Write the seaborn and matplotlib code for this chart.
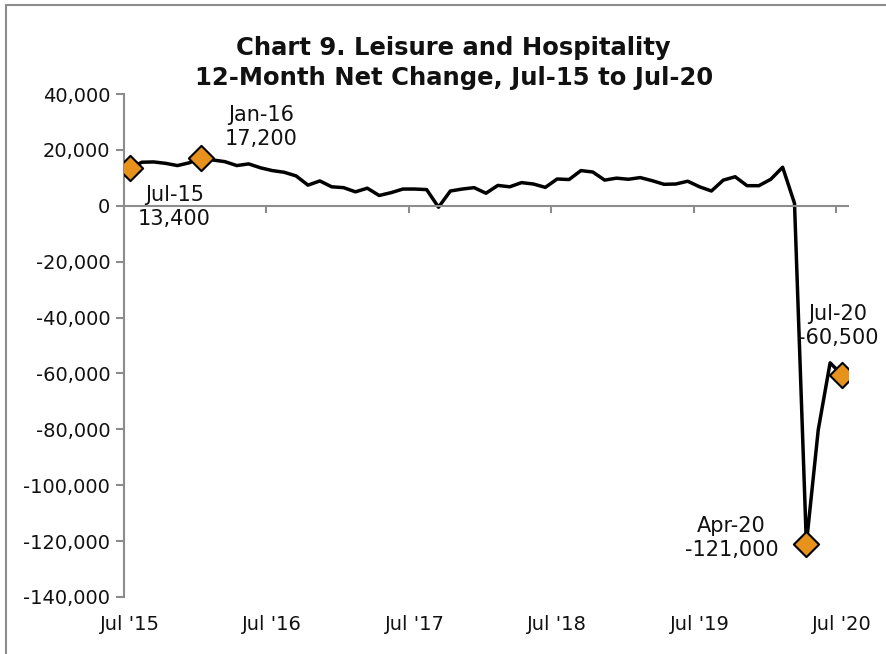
import numpy as np
import pandas as pd
import matplotlib
matplotlib.use("Agg")
import matplotlib.pyplot as plt
from matplotlib.lines import Line2D
from matplotlib.ticker import FuncFormatter
import seaborn as sns

# monthly 12-month net change, Jul 2015 .. Jul 2020
months = pd.date_range("2015-07-01", "2020-07-01", freq="MS")
net_change = [
    13400, 15600, 15700, 15200, 14400, 15400, 17200, 16400, 15800, 14400,
    15000, 13600, 12600, 12000, 10700, 7400, 8900, 6800, 6500, 5000,
    6300, 3700, 4700, 6000, 6000, 5800, -500, 5300, 6000, 6500,
    4500, 7300, 6800, 8300, 7800, 6600, 9600, 9400, 12600, 12100,
    9200, 9900, 9500, 10100, 9000, 7700, 7800, 8800, 6800, 5300,
    9200, 10400, 7200, 7200, 9500, 13800, 900, -121000, -80200, -56200,
    -60500,
]

# highlighted points: (month index, label)
hl_idx = [0, 6, 57, 60]
hl_names = ["Jul-15", "Jan-16", "Apr-20", "Jul-20"]
hl_offsets = [(32, -28), (43, 22), (-54, 4), (-3, 35)]  # points

x_labels = ["Jul '15", "Jul '16", "Jul '17", "Jul '18", "Jul '19", "Jul '20"]
y_ticks = np.arange(-140000, 40001, 20000)

df = pd.DataFrame({"idx": np.arange(len(months)), "month": months, "value": net_change})
hl = df.iloc[hl_idx]

sns.set_theme(style="white")
plt.rcParams["font.family"] = ["DejaVu Sans"]

fig = plt.figure(figsize=(8.86, 6.54), dpi=100)
ax = fig.add_axes([0.140, 0.0872, 0.817, 0.7690])

sns.lineplot(data=df, x="idx", y="value", ax=ax, color="black", linewidth=2.5)
sns.scatterplot(data=hl, x="idx", y="value", ax=ax, marker="D", s=165,
                color="#E8921E", edgecolor="black", linewidth=1.5, zorder=5)

for (_, row), name, off in zip(hl.iterrows(), hl_names, hl_offsets):
    ax.annotate(f"{name}\n{row['value']:,.0f}", (row["idx"], row["value"]),
                xytext=off, textcoords="offset points", ha="center", va="center",
                fontsize=15, linespacing=1.25, color="#111111")

ax.set_xlim(-0.5, len(months) - 0.5)
ax.set_ylim(-140000, 40000)
ax.set_yticks(y_ticks)
ax.yaxis.set_major_formatter(FuncFormatter(lambda v, p: f"{v:,.0f}"))
ax.set_xlabel("")
ax.set_ylabel("")

gray = "#8c8c8c"
for s in ["top", "right"]:
    ax.spines[s].set_visible(False)
ax.spines["left"].set_color(gray)
ax.spines["left"].set_linewidth(1.5)
ax.spines["bottom"].set_position(("data", 0))
ax.spines["bottom"].set_color(gray)
ax.spines["bottom"].set_linewidth(1.5)

# year boundary tick marks on the zero line
ax.set_xticks(np.arange(11.5, len(months), 12))
ax.set_xticklabels([])
ax.tick_params(axis="x", direction="out", length=5, width=1.5, color=gray, bottom=True)
ax.tick_params(axis="y", direction="out", length=6, width=1.5, color=gray, left=True,
               labelsize=14, pad=4, labelcolor="#111111")

# category labels along the bottom of the plot area
sec = ax.secondary_xaxis("bottom")
sec.set_xticks(df["idx"][::12])
sec.set_xticklabels(x_labels)
sec.tick_params(length=0, labelsize=14, pad=13, labelcolor="#111111")
sec.spines["bottom"].set_visible(False)

fig.text(0.512, 0.904, "Chart 9. Leisure and Hospitality\n12-Month Net Change, Jul-15 to Jul-20",
         ha="center", va="center", fontsize=17.5, fontweight="bold", linespacing=1.3,
         color="#111111")

# chart frame (top and left edges visible)
fig.add_artist(Line2D([6 / 886, 6 / 886], [0, 1 - 5 / 654], transform=fig.transFigure,
                      color=gray, linewidth=1.5))
fig.add_artist(Line2D([6 / 886, 1], [1 - 5 / 654, 1 - 5 / 654], transform=fig.transFigure,
                      color=gray, linewidth=1.5))

fig.savefig("out.png", dpi=100)
